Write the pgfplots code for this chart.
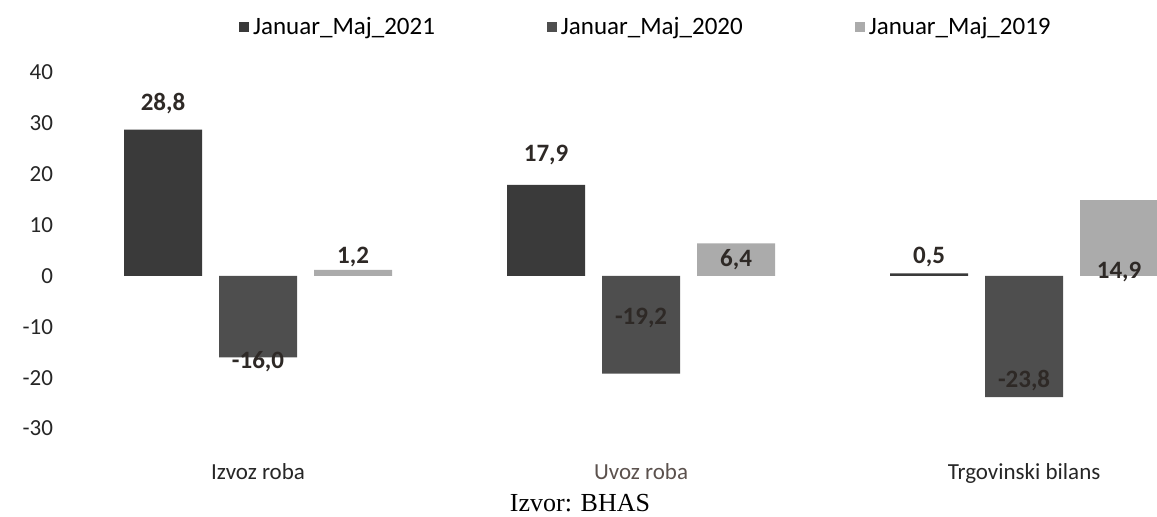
\documentclass[border=0pt]{standalone}
\usepackage{pgfplots}
\pgfplotsset{compat=1.18}
\usepackage{pgfplotstable}
\usepackage{fontspec}
\setmainfont{Carlito}
\newfontfamily\srcfont{Liberation Serif}

\definecolor{cA}{HTML}{3A3A3A}
\definecolor{cB}{HTML}{4E4E4E}
\definecolor{cC}{HTML}{ABABAB}
\definecolor{lab}{HTML}{2E2926}

% x y dy(label offset in pt from bar end)
\pgfplotstableread{
x y dy
0 28.8 13
1 17.9 15
2 0.5 8
}\tabA
\pgfplotstableread{
x y dy
0 -16.0 -2
1 -19.2 28
2 -23.8 8
}\tabB
\pgfplotstableread{
x y dy
0 1.2 6.5
1 6.4 -8
2 14.9 -36
}\tabC

\begin{document}
\begin{tikzpicture}
\begin{axis}[
  scale only axis,
  width=548.5pt, height=192.5pt,
  xmin=-0.517, xmax=2.347,
  ymin=-33.23, ymax=42.47,
  ybar=8.5pt, bar width=39pt,
  clip=false,
  axis line style={draw=none},
  tick style={draw=none},
  xtick=data,
  xticklabels={Izvoz roba,{\color[HTML]{5B514D}Uvoz roba},Trgovinski bilans},
  ytick={-30,-20,...,40},
  /pgf/number format/assume math mode=true,
  tick label style={font=\fontsize{11.5}{13}\selectfont, text=black!85},
  xticklabel style={yshift=-1.5pt},
  legend style={draw=none, fill=none, at={(0.535,1.0)}, anchor=center, yshift=16.5pt,
    legend columns=-1, font=\fontsize{12.5}{14}\selectfont,
    /tikz/every even column/.append style={column sep=54pt}},
  legend image code/.code={\fill[#1] (0pt,-2.6pt) rectangle (5pt,2.6pt);},
  nodes near coords={\pgfmathprintnumber[fixed,fixed zerofill,precision=1,use comma,assume math mode=true]{\pgfplotspointmeta}},
  visualization depends on={\thisrow{dy} \as \dy},
  every node near coord/.append style={anchor=center, yshift=\dy pt,
    font=\bfseries\fontsize{12.5}{14}\selectfont, text=lab},
]
\addplot[fill=cA, draw=none] table[x=x,y=y] {\tabA};
\addplot[fill=cB, draw=none] table[x=x,y=y] {\tabB};
\addplot[fill=cC, draw=none] table[x=x,y=y] {\tabC};
\legend{Januar\_Maj\_2021,Januar\_Maj\_2020,Januar\_Maj\_2019}
\node[font=\srcfont\fontsize{13}{15}\selectfont] at (rel axis cs:0.474,-0.151) {Izvor: BHAS};
\end{axis}
\pgfresetboundingbox
\path[use as bounding box] (current axis.south west) ++(-30pt,-36pt) rectangle ([shift={(0pt,30pt)}]current axis.north east);
\end{tikzpicture}
\end{document}
